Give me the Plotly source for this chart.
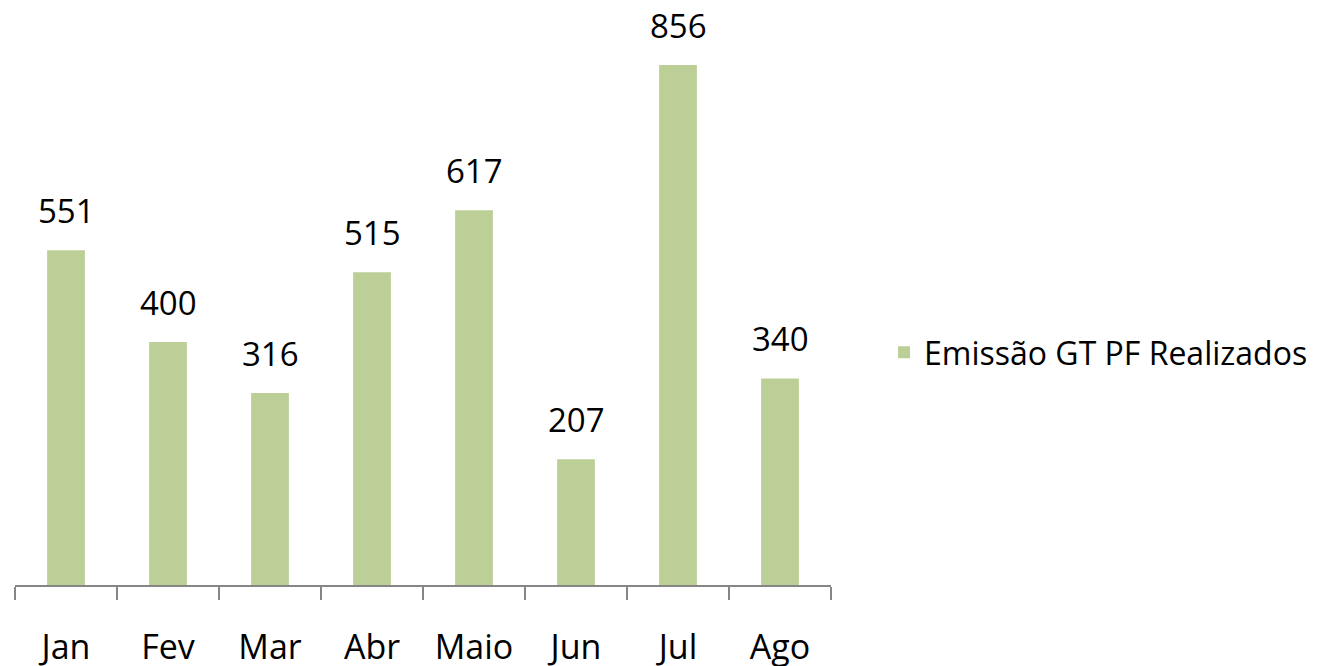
import plotly.graph_objects as go

months = ["Jan", "Fev", "Mar", "Abr", "Maio", "Jun", "Jul", "Ago"]
values = [551, 400, 316, 515, 617, 207, 856, 340]
series_name = "Emissão GT PF Realizados"

fig = go.Figure()
fig.add_trace(go.Bar(
    x=months, y=values, name=series_name,
    marker=dict(color="#BBCF97", line=dict(width=0)),
))

for m, v in zip(months, values):
    fig.add_annotation(
        x=m, y=v, text=str(v), showarrow=False,
        xanchor="center", yanchor="bottom", yshift=15,
        font=dict(family="Open Sans", size=33, color="#000000"),
    )

fig.update_layout(
    width=1326, height=666,
    margin=dict(l=7, r=503, t=0, b=89),
    paper_bgcolor="white", plot_bgcolor="white",
    bargap=0.63,
    showlegend=True,
    legend=dict(x=1.065, xanchor="left", y=0.403, yanchor="middle",
                font=dict(family="Open Sans", size=32, color="#000000"),
                bgcolor="rgba(0,0,0,0)"),
    font=dict(family="Open Sans", color="#000000"),
)
fig.update_xaxes(
    showline=True, linecolor="#868686", linewidth=2,
    ticks="outside", tickson="boundaries", ticklen=13, tickwidth=2, tickcolor="#868686",
    tickfont=dict(family="Open Sans", size=34, color="#000000"),
    ticklabelstandoff=31,
    showgrid=False, zeroline=False,
)
fig.update_yaxes(range=[0, 950], visible=False, showgrid=False, zeroline=False)

fig.write_html("out.html")
